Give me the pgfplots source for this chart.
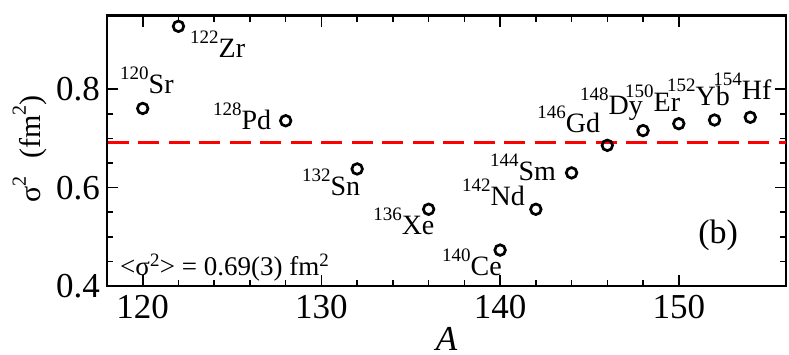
\documentclass[border=0pt]{standalone}
\usepackage{pgfplots}
\pgfplotsset{compat=1.18}
\usepackage{fontspec}
\setmainfont{Liberation Serif}

% isotope label: mass number raised, then element symbol
\newcommand\iso[2]{{\fontsize{19}{19}\selectfont\raisebox{14pt}{#1}}#2}

\begin{document}
\begin{tikzpicture}
\begin{axis}[
    name=ax,
    scale only axis,
    width=679pt, height=270.5pt,
    xmin=118, xmax=156,
    ymin=0.4, ymax=0.95,
    xtick={120,130,140,150},
    xticklabels={120,130,140,150},
    ytick={0.4,0.6,0.8},
    yticklabels={0.4,0.6,0.8},
    minor x tick num=4,
    minor y tick num=3,
    tick align=inside,
    major tick length=11pt,
    minor tick length=6pt,
    axis line style={line width=2.2pt},
    every tick/.style={line width=1.6pt, black},
    yticklabel style={inner sep=0pt, anchor=east, xshift=-7pt},
    xticklabel style={inner sep=0pt, anchor=base, yshift=-33pt},
    tick label style={font=\fontsize{35}{35}\selectfont},
    clip=false,
]
\addplot[red, line width=3.3pt, dash pattern=on 21pt off 9.5pt] coordinates {(118.05,0.6914) (156,0.6914)};
\addplot[only marks, black, line width=2.7pt, mark=o, mark size=5.3pt] coordinates {
    (120,0.761) (122,0.928) (128,0.736) (132,0.638) (136,0.556) (140,0.473)
    (142,0.556) (144,0.630) (146,0.686) (148,0.716) (150,0.730) (152,0.7375) (154,0.743)
};
\begin{scope}[every node/.style={anchor=base west, inner sep=0pt, font=\fontsize{28}{28}\selectfont}]
\node at (axis cs:118.73,0.7904) {\iso{120}{Sr}};
\node at (axis cs:122.645,0.8636) {\iso{122}{Zr}};
\node at (axis cs:123.93,0.7172) {\iso{128}{Pd}};
\node at (axis cs:128.91,0.583) {\iso{132}{Sn}};
\node at (axis cs:132.89,0.5037) {\iso{136}{Xe}};
\node at (axis cs:136.75,0.4223) {\iso{140}{Ce}};
\node at (axis cs:137.87,0.5627) {\iso{142}{Nd}};
\node at (axis cs:139.43,0.6155) {\iso{144}{Sm}};
\node at (axis cs:142.07,0.7111) {\iso{146}{Gd}};
\node at (axis cs:144.47,0.7477) {\iso{148}{Dy}};
\node at (axis cs:146.99,0.7538) {\iso{150}{Er}};
\node at (axis cs:149.34,0.766) {\iso{152}{Yb}};
\node at (axis cs:151.92,0.7802) {\iso{154}{Hf}};
\node[font=\fontsize{27}{27}\selectfont] at (axis cs:118.73,0.4223)
    {<σ\textsuperscript{2}> = 0.69(3) fm\textsuperscript{2}};
\node[font=\fontsize{34}{34}\selectfont] at (axis cs:151.08,0.4874) {(b)};
\end{scope}
% axis labels
\node[rotate=90, anchor=base, inner sep=0pt, font=\fontsize{30}{30}\selectfont]
    at ([xshift=-66pt,yshift=2pt]rel axis cs:0,0.5)
    {σ{\fontsize{20}{20}\selectfont\raisebox{15pt}{2}}\hspace{18pt}(fm{\fontsize{20}{20}\selectfont\raisebox{15pt}{2}})};
\node[anchor=base, inner sep=0pt, font=\fontsize{35}{35}\selectfont\itshape]
    at ([yshift=-65pt]rel axis cs:0.5,0) {A};
\end{axis}
\pgfresetboundingbox
\path ([shift={(-107pt,-69pt)}]ax.south west) rectangle ([shift={(3pt,15.5pt)}]ax.north east);
\end{tikzpicture}
\end{document}
